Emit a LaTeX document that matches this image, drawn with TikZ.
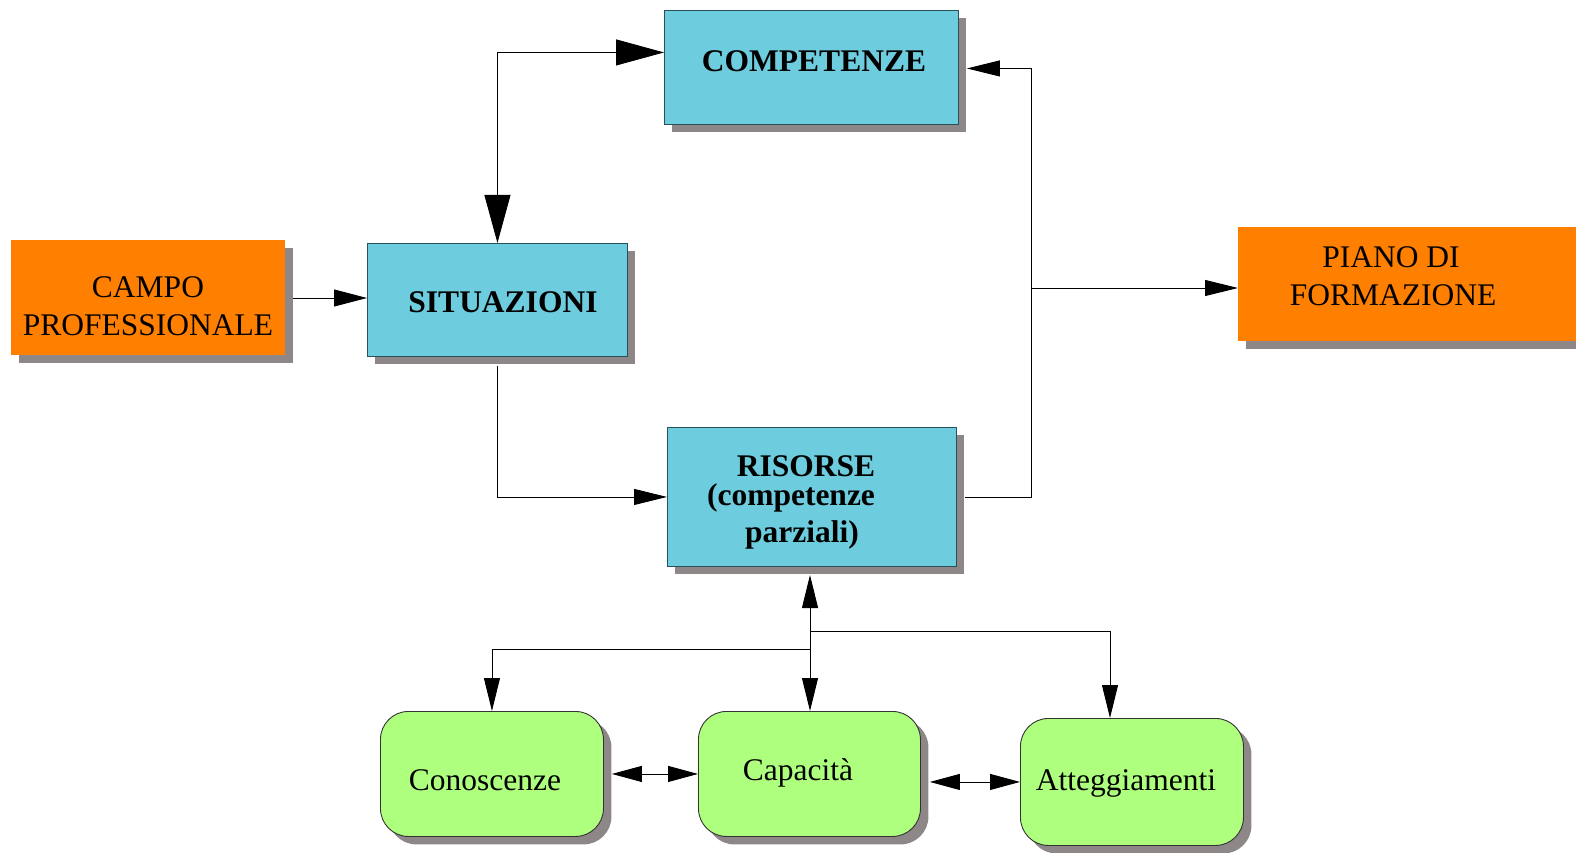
\documentclass[tikz,border=0pt]{standalone}
\usepackage{fontspec}
\setmainfont{Liberation Serif}
\usetikzlibrary{arrows.meta,shadows}
\definecolor{orng}{RGB}{255,127,0}
\definecolor{cyanbox}{RGB}{109,204,221}
\definecolor{greenbox}{RGB}{175,255,127}
\definecolor{shadowgray}{RGB}{142,135,135}
\definecolor{bordercol}{RGB}{40,80,90}
\tikzset{
  shd/.style={general shadow={shadow xshift=8pt, shadow yshift=-8pt, fill=shadowgray}},
  orangebox/.style={shd, fill=orng, draw=none, anchor=north west, inner sep=0pt},
  bluebox/.style={shd, fill=cyanbox, draw=bordercol, line width=0.9pt, anchor=north west, inner sep=0pt},
  greenbx/.style={shd, fill=greenbox, draw=black!80, line width=0.9pt, rounded corners=28pt, anchor=north west, inner sep=0pt},
  lbl/.style={anchor=base, inner sep=0pt, font=\fontsize{31.5}{38}\selectfont},
  blbl/.style={lbl, font=\fontsize{31.5}{38}\selectfont\bfseries},
  conn/.style={draw=black, line width=0.9pt},
  tipS/.tip={Triangle[length=33pt, width=17pt]},
  tipM/.tip={Triangle[length=33pt, width=16pt]},
  tipB/.tip={Triangle[length=48pt, width=26pt]},
  tipG/.tip={Triangle[length=30pt, width=16pt]},
}
\begin{document}
\begin{tikzpicture}[x=1pt,y=-1pt]
\useasboundingbox (0,0) rectangle (1576,853);
% boxes
\node[orangebox, minimum width=274pt, minimum height=115pt] (campo) at (11,240) {};
\node[bluebox, minimum width=260pt, minimum height=113pt] (sit) at (367,243) {};
\node[bluebox, minimum width=294pt, minimum height=114pt] (comp) at (664,10) {};
\node[bluebox, minimum width=289pt, minimum height=139pt] (ris) at (667,427) {};
\node[orangebox, minimum width=360pt, minimum height=114pt] (piano) at (1238,227) {};
\node[greenbx, minimum width=223pt, minimum height=125pt] (con) at (380,711) {};
\node[greenbx, minimum width=222pt, minimum height=125pt] (cap) at (698,711) {};
\node[greenbx, minimum width=223pt, minimum height=127pt] (att) at (1020,718) {};
% texts
\node[lbl] (tcampo1) at (148,297) {CAMPO};
\node[lbl] (tcampo2) at (148,335) {PROFESSIONALE};
\node[blbl] (tsit) at (503,312) {SITUAZIONI};
\node[blbl] (tcomp) at (814,72) {COMPETENZE};
\node[blbl] (tris1) at (806,476) {RISORSE};
\node[blbl] (tris2) at (791,505) {(competenze};
\node[blbl] (tris3) at (802,542) {parziali)};
\node[lbl] (tpiano1) at (1391,267) {PIANO DI};
\node[lbl] (tpiano2) at (1393,305) {FORMAZIONE};
\node[lbl] (tcon) at (485,790) {Conoscenze};
\node[lbl] (tcap) at (798,780) {Capacità};
\node[lbl] (tatt) at (1126,790) {Atteggiamenti};
% junction coordinates
\coordinate (bus) at (1031,288);
\coordinate (rb) at (810,575);
\coordinate (j1) at (810,649);
\coordinate (j2) at (810,631);
\coordinate (j3) at (1110,631);
% connectors
\draw[conn, -{tipS}] ([xshift=8pt]campo.east |- 0,298) -- (sit.west |- 0,298);
\draw[conn, {tipB}-{tipB}] (sit.north) |- ([yshift=15pt]comp.west);
\draw[conn, -{tipM}] ([yshift=-9pt]sit.south) |- (ris.west);
\draw[conn] ([xshift=8pt]ris.east) -| (bus);
\draw[conn, -{tipM}] (bus) |- ([xshift=8pt,yshift=-1pt]comp.east);
\draw[conn, -{tipM}] (bus) -- (piano.west |- bus);
\draw[conn, {tipM}-{tipM}] (rb) -- (rb |- cap.north);
\draw[conn, -{tipM}] (j1) -| (con.north);
\draw[conn, -{tipM}] (j2) -- (j3) -- (j3 |- att.north);
\draw[conn, {tipG}-{tipG}] ([xshift=8pt]con.east) -- (con.east -| cap.west);
\draw[conn, {tipG}-{tipG}] ([xshift=9pt]cap.east |- att.west) -- (att.west);
\end{tikzpicture}
\end{document}
